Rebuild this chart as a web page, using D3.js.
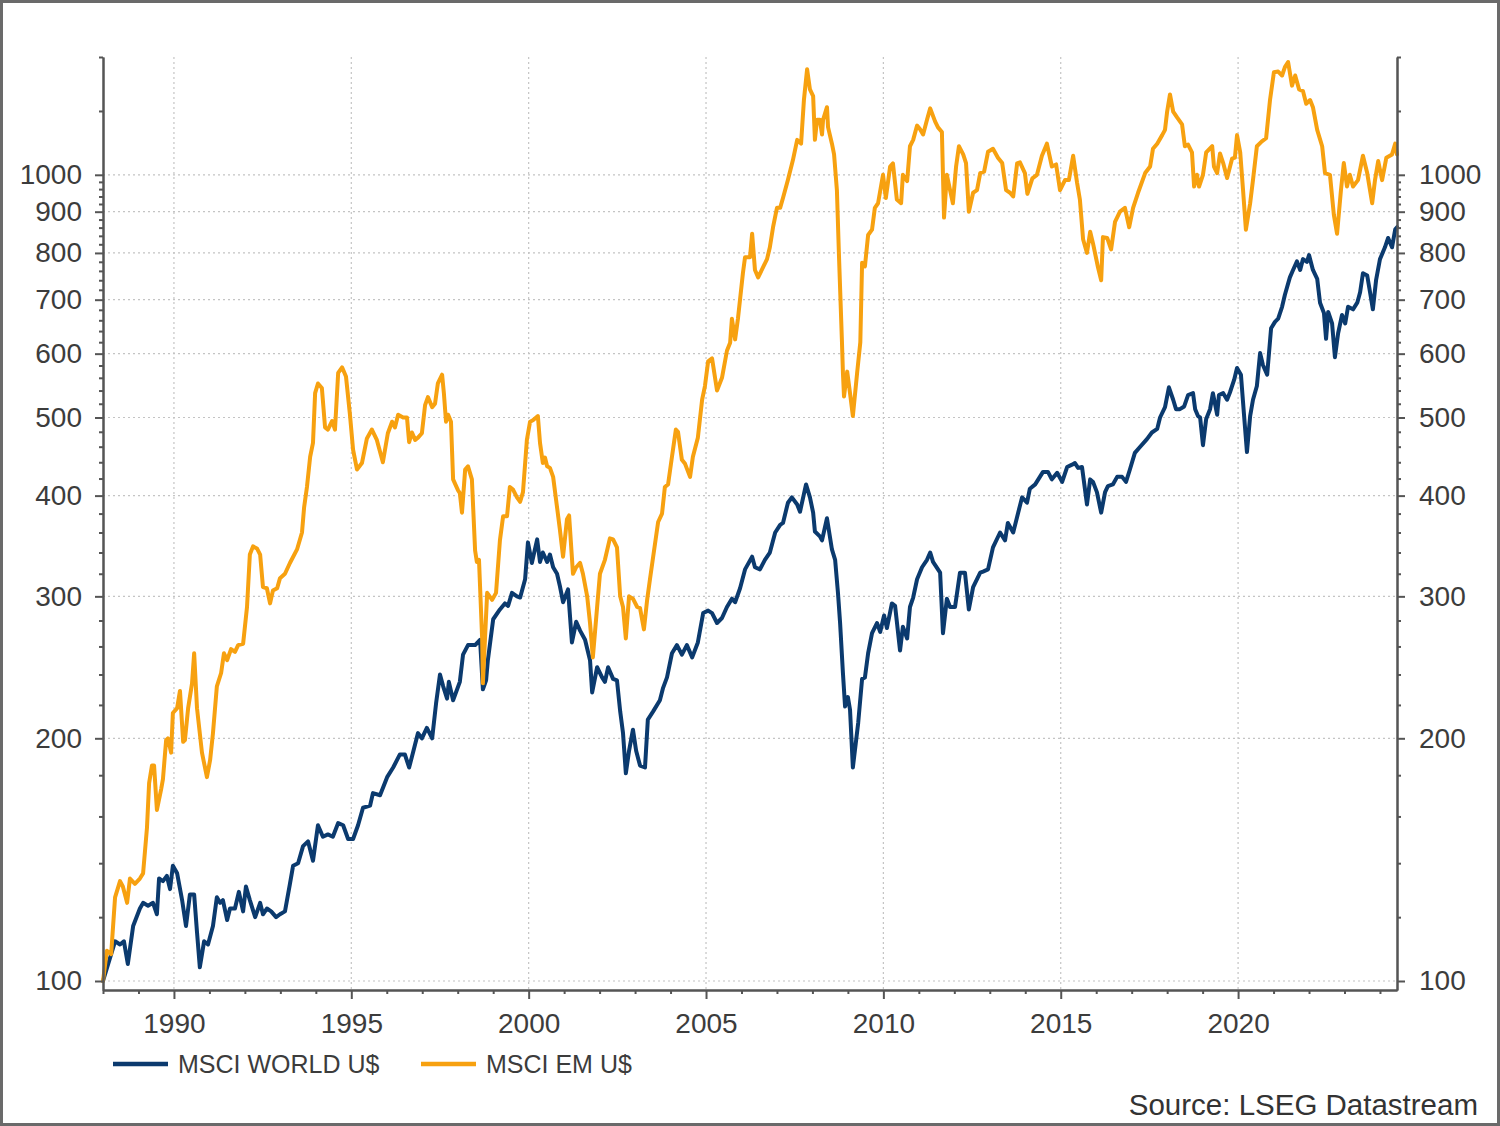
<!DOCTYPE html>
<html>
<head>
<meta charset="utf-8">
<script src="https://cdn.jsdelivr.net/npm/d3@7"></script>
<style>
  body { margin: 0; background: #fff; }
  text { font-family: "Liberation Sans", Arial, sans-serif; }
</style>
</head>
<body>
<svg id="chart" width="1500" height="1126"></svg>
<script>
// [decimal year, index value]
const worldSeries = [
  [1988.00,100],[1988.34,112],[1988.48,111],[1988.59,112],[1988.70,105],[1988.85,117],
  [1989.04,123],[1989.13,125],[1989.27,124],[1989.41,125],[1989.52,121],[1989.58,134],[1989.69,133],[1989.80,135],[1989.89,130],[1989.97,139],
  [1990.09,136],[1990.23,126],[1990.34,117],[1990.45,128],[1990.57,128],[1990.65,115],[1990.73,104],[1990.85,112],[1990.96,111],
  [1991.10,117],[1991.21,127],[1991.30,125],[1991.38,126],[1991.50,119],[1991.58,123],[1991.72,123],[1991.83,129],[1991.95,122],
  [1992.03,131],[1992.14,126],[1992.29,120],[1992.43,125],[1992.51,121],[1992.62,123],[1992.74,122],[1992.88,120],[1992.99,121],
  [1993.13,122],[1993.27,132],[1993.36,139],[1993.50,140],[1993.64,147],[1993.78,149],[1993.92,141],
  [1994.06,156],[1994.20,151],[1994.34,152],[1994.48,151],[1994.63,157],[1994.77,156],[1994.91,150],
  [1995.05,150],[1995.19,156],[1995.33,164],[1995.53,165],[1995.61,171],[1995.81,170],
  [1996.01,179],[1996.18,184],[1996.37,191],[1996.51,191],[1996.63,184],[1996.74,192],[1996.88,203],[1996.99,200],
  [1997.13,206],[1997.28,200],[1997.39,221],[1997.50,240],[1997.59,232],[1997.70,224],[1997.75,235],[1997.87,223],
  [1998.06,235],[1998.15,254],[1998.29,261],[1998.49,261],[1998.63,265],[1998.71,230],[1998.80,236],[1998.85,250],
  [1999.00,281],[1999.19,289],[1999.33,294],[1999.42,292],[1999.53,303],[1999.67,300],[1999.76,299],[1999.90,315],[1999.98,350],
  [2000.09,330],[2000.24,353],[2000.32,331],[2000.40,340],[2000.52,331],[2000.60,338],[2000.69,326],[2000.80,320],[2000.88,309],[2000.97,295],
  [2001.11,306],[2001.22,263],[2001.34,279],[2001.45,272],[2001.59,265],[2001.73,250],[2001.79,228],[2001.93,245],
  [2002.07,238],[2002.15,235],[2002.24,245],[2002.38,237],[2002.49,236],[2002.58,216],[2002.66,203],[2002.74,181],[2002.83,193],[2002.94,205],
  [2003.03,193],[2003.14,185],[2003.28,184],[2003.36,211],[2003.51,216],[2003.70,223],[2003.79,231],[2003.90,238],
  [2004.04,255],[2004.18,261],[2004.32,254],[2004.46,261],[2004.61,252],[2004.77,263],[2004.92,286],
  [2005.06,288],[2005.17,286],[2005.31,278],[2005.45,282],[2005.59,291],[2005.73,298],[2005.82,295],[2005.96,307],
  [2006.10,324],[2006.30,336],[2006.38,326],[2006.52,324],[2006.66,333],[2006.80,340],[2006.95,360],
  [2007.09,368],[2007.17,370],[2007.31,392],[2007.42,398],[2007.57,390],[2007.65,382],[2007.82,413],[2007.93,398],
  [2008.02,381],[2008.07,361],[2008.21,356],[2008.27,352],[2008.41,375],[2008.55,343],[2008.64,333],[2008.72,303],[2008.78,278],[2008.86,241],[2008.92,219],
  [2009.00,225],[2009.06,217],[2009.14,184],[2009.29,209],[2009.40,237],[2009.48,238],[2009.57,255],[2009.68,270],[2009.82,278],[2009.91,271],
  [2010.02,284],[2010.10,274],[2010.24,294],[2010.33,292],[2010.47,257],[2010.55,275],[2010.67,266],[2010.75,291],[2010.84,299],[2010.95,315],
  [2011.09,326],[2011.23,333],[2011.32,340],[2011.40,331],[2011.60,321],[2011.68,270],[2011.79,298],[2011.88,291],
  [2012.02,291],[2012.16,321],[2012.30,321],[2012.41,289],[2012.53,308],[2012.73,321],[2012.81,322],[2012.95,324],
  [2013.09,345],[2013.29,360],[2013.43,352],[2013.51,370],[2013.66,360],[2013.80,381],[2013.91,398],
  [2014.05,392],[2014.13,408],[2014.28,413],[2014.50,428],[2014.64,428],[2014.75,419],[2014.90,427],
  [2015.04,416],[2015.18,434],[2015.32,437],[2015.40,439],[2015.49,433],[2015.60,434],[2015.74,390],[2015.83,419],[2015.91,416],
  [2016.02,404],[2016.14,381],[2016.25,404],[2016.33,411],[2016.47,413],[2016.59,422],[2016.73,422],[2016.84,416],[2016.95,431],
  [2017.09,452],[2017.24,460],[2017.43,470],[2017.57,479],[2017.72,484],[2017.80,500],[2017.94,515],
  [2018.05,545],[2018.17,526],[2018.25,512],[2018.36,512],[2018.48,516],[2018.59,533],[2018.73,536],[2018.79,512],[2018.87,502],[2018.93,500],
  [2019.01,462],[2019.10,498],[2019.21,512],[2019.29,536],[2019.41,504],[2019.46,533],[2019.58,536],[2019.69,526],[2019.77,537],[2019.89,557],[2019.97,576],
  [2020.08,565],[2020.17,502],[2020.25,453],[2020.34,502],[2020.42,526],[2020.53,547],[2020.62,601],[2020.70,581],[2020.82,565],[2020.93,645],
  [2021.04,657],[2021.13,663],[2021.24,686],[2021.32,710],[2021.46,746],[2021.55,762],[2021.66,781],[2021.75,762],[2021.83,786],[2021.94,780],
  [2022.00,795],[2022.11,762],[2022.23,743],[2022.31,694],[2022.42,674],[2022.48,626],[2022.54,676],[2022.65,654],[2022.73,594],[2022.82,636],[2022.93,670],
  [2023.02,654],[2023.10,686],[2023.24,681],[2023.36,694],[2023.44,715],[2023.52,755],[2023.64,750],[2023.72,715],[2023.80,681],[2023.89,740],
  [2024.00,786],[2024.14,813],[2024.23,835],[2024.34,813],[2024.43,856],[2024.48,861]
];

const emSeries = [
  [1988.00,100],[1988.11,109],[1988.23,108],[1988.34,127],[1988.48,133],[1988.56,131],[1988.68,125],[1988.76,134],[1988.90,132],
  [1989.04,134],[1989.13,136],[1989.24,155],[1989.30,176],[1989.38,185],[1989.44,185],[1989.52,163],[1989.64,173],[1989.69,178],[1989.78,199],[1989.83,200],[1989.92,192],[1989.97,215],
  [1990.09,218],[1990.17,229],[1990.26,198],[1990.31,199],[1990.40,218],[1990.51,234],[1990.57,255],[1990.65,218],[1990.79,192],[1990.93,179],
  [1991.02,188],[1991.10,203],[1991.21,232],[1991.33,241],[1991.41,255],[1991.50,250],[1991.61,258],[1991.72,256],[1991.81,261],[1991.95,262],
  [1992.06,291],[1992.14,338],[1992.23,346],[1992.34,344],[1992.43,338],[1992.51,308],[1992.62,307],[1992.71,294],[1992.79,305],[1992.91,307],[1992.99,316],
  [1993.13,320],[1993.27,330],[1993.47,343],[1993.61,360],[1993.67,387],[1993.75,410],[1993.84,447],[1993.92,465],[1993.98,536],
  [1994.06,551],[1994.17,544],[1994.26,486],[1994.34,483],[1994.46,495],[1994.54,483],[1994.63,568],[1994.74,577],[1994.85,562],[1994.96,505],
  [1995.05,456],[1995.16,431],[1995.30,439],[1995.44,471],[1995.58,483],[1995.72,469],[1995.89,440],
  [1996.03,478],[1996.15,494],[1996.23,486],[1996.32,504],[1996.46,500],[1996.57,500],[1996.63,466],[1996.71,479],[1996.80,469],[1996.88,472],[1996.99,478],
  [1997.08,518],[1997.16,530],[1997.28,515],[1997.36,520],[1997.44,551],[1997.56,565],[1997.61,536],[1997.67,494],[1997.73,504],[1997.81,494],[1997.87,419],
  [1998.01,406],[1998.06,403],[1998.12,381],[1998.21,431],[1998.29,435],[1998.40,419],[1998.49,342],[1998.54,331],[1998.60,333],[1998.69,265],[1998.71,234],[1998.83,303],[1998.97,297],
  [1999.08,303],[1999.19,352],[1999.28,377],[1999.39,377],[1999.47,410],[1999.56,407],[1999.67,398],[1999.76,393],[1999.84,404],[1999.95,469],
  [2000.04,494],[2000.12,496],[2000.26,502],[2000.32,465],[2000.40,439],[2000.46,446],[2000.52,435],[2000.60,433],[2000.69,422],[2000.80,387],[2000.88,363],[2000.97,336],
  [2001.08,374],[2001.14,378],[2001.25,320],[2001.34,326],[2001.45,330],[2001.53,320],[2001.65,300],[2001.73,278],[2001.81,252],[2001.93,291],
  [2002.01,320],[2002.15,333],[2002.29,354],[2002.38,353],[2002.49,345],[2002.58,300],[2002.66,291],[2002.74,266],[2002.83,300],[2002.94,298],
  [2003.06,291],[2003.14,290],[2003.25,273],[2003.34,297],[2003.42,315],[2003.51,336],[2003.65,371],[2003.76,380],[2003.84,410],[2003.93,413],
  [2004.04,447],[2004.15,483],[2004.21,480],[2004.32,443],[2004.41,438],[2004.55,422],[2004.63,447],[2004.77,472],[2004.89,526],[2004.97,547],
  [2005.06,587],[2005.17,592],[2005.31,540],[2005.45,560],[2005.59,605],[2005.68,619],[2005.73,663],[2005.82,625],[2005.90,663],
  [2006.04,755],[2006.10,790],[2006.24,790],[2006.30,845],[2006.38,762],[2006.47,746],[2006.61,768],[2006.72,786],[2006.80,813],[2006.89,861],
  [2007.00,910],[2007.09,910],[2007.17,936],[2007.31,986],[2007.45,1043],[2007.57,1105],[2007.68,1093],[2007.76,1238],[2007.85,1352],[2007.93,1276],
  [2008.02,1252],[2008.07,1105],[2008.13,1170],[2008.21,1170],[2008.27,1122],[2008.30,1170],[2008.41,1213],[2008.44,1146],[2008.55,1093],[2008.61,1060],
  [2008.69,957],[2008.75,790],[2008.83,625],[2008.86,568],[2008.89,531],[2008.98,570],
  [2009.06,536],[2009.14,502],[2009.26,568],[2009.35,620],[2009.40,778],[2009.48,770],[2009.57,842],[2009.68,855],[2009.76,910],[2009.85,922],[2009.99,1000],
  [2010.07,936],[2010.19,1024],[2010.27,1033],[2010.38,932],[2010.50,922],[2010.55,1000],[2010.67,982],[2010.75,1085],[2010.84,1105],[2010.95,1151],
  [2011.03,1140],[2011.12,1122],[2011.23,1170],[2011.32,1209],[2011.46,1164],[2011.54,1145],[2011.65,1130],[2011.71,885],[2011.79,1000],[2011.88,957],[2011.96,922],
  [2012.05,1024],[2012.13,1085],[2012.25,1060],[2012.33,1034],[2012.41,900],[2012.53,950],[2012.64,957],[2012.73,1005],[2012.84,1009],[2012.95,1068],
  [2013.09,1077],[2013.23,1050],[2013.35,1034],[2013.46,957],[2013.57,950],[2013.66,940],[2013.77,1033],[2013.85,1036],[2013.99,1005],
  [2014.06,947],[2014.20,990],[2014.33,1000],[2014.47,1056],[2014.61,1093],[2014.75,1024],[2014.87,1030],[2014.98,957],
  [2015.12,985],[2015.23,985],[2015.35,1056],[2015.46,978],[2015.54,932],[2015.63,832],[2015.74,800],[2015.83,850],[2015.91,822],
  [2016.05,768],[2016.14,740],[2016.19,837],[2016.31,835],[2016.42,808],[2016.53,874],[2016.67,900],[2016.81,910],[2016.93,861],
  [2017.04,910],[2017.18,950],[2017.38,1005],[2017.52,1024],[2017.60,1077],[2017.72,1093],[2017.86,1120],[2017.94,1137],[2018.00,1198],
  [2018.08,1258],[2018.17,1198],[2018.28,1178],[2018.42,1155],[2018.50,1085],[2018.59,1090],[2018.70,1066],[2018.76,967],[2018.84,1000],[2018.90,967],
  [2019.01,1000],[2019.10,1066],[2019.27,1085],[2019.32,1024],[2019.41,1005],[2019.49,1063],[2019.58,1034],[2019.69,991],[2019.83,1047],[2019.91,1050],[2019.97,1120],
  [2020.06,1066],[2020.14,957],[2020.22,855],[2020.34,922],[2020.42,985],[2020.53,1085],[2020.67,1100],[2020.79,1110],[2020.90,1238],
  [2021.01,1340],[2021.13,1343],[2021.24,1328],[2021.32,1360],[2021.41,1380],[2021.52,1290],[2021.61,1328],[2021.72,1276],[2021.83,1270],[2021.92,1225],
  [2022.03,1238],[2022.11,1213],[2022.23,1137],[2022.37,1085],[2022.45,1005],[2022.59,1000],[2022.70,892],[2022.79,845],[2022.90,957],[2022.98,1034],
  [2023.07,967],[2023.15,1000],[2023.24,967],[2023.38,985],[2023.52,1056],[2023.64,1005],[2023.78,922],[2023.86,985],[2023.95,1040],
  [2024.06,985],[2024.18,1050],[2024.34,1060],[2024.43,1093],[2024.48,1060]
];

const seriesNames = ["MSCI WORLD U$", "MSCI EM U$"];
const seriesColors = ["#0b3a6e", "#f7a110"];
const yLabelTicks = [100, 200, 300, 400, 500, 600, 700, 800, 900, 1000];
const yMinorTicks = d3.range(120, 1000, 20).filter(v => v % 100 !== 0).concat([1200, 1400]);
const xLabelYears = [1990, 1995, 2000, 2005, 2010, 2015, 2020];
const xMinorYears = d3.range(1988, 2025).filter(v => v % 5 !== 0);
const sourceText = "Source: LSEG Datastream";

const svg = d3.select("#chart");
const plotLeft = 103, plotRight = 1397, plotTop = 57, plotBottom = 990;
const axisColor = "#555";
const textColor = "#3c3c3c";

const x = d3.scaleLinear().domain([1988, 2024.48]).range([plotLeft, plotRight]);
const y = d3.scaleLog().domain([97.46, 1400]).range([plotBottom, plotTop]);

// outer frame
svg.append("rect")
  .attr("x", 1.5).attr("y", 1.5)
  .attr("width", 1497).attr("height", 1123)
  .attr("fill", "#fff")
  .attr("stroke", "#6a6a6a")
  .attr("stroke-width", 3);

// gridlines
const grid = svg.append("g")
  .attr("stroke", "#c4c4c4")
  .attr("stroke-width", 1.2)
  .attr("stroke-dasharray", "2,3");

grid.selectAll("line.h")
  .data(yLabelTicks)
  .enter().append("line")
  .attr("x1", plotLeft).attr("x2", plotRight)
  .attr("y1", d => y(d)).attr("y2", d => y(d));

grid.selectAll("line.v")
  .data(xLabelYears)
  .enter().append("line")
  .attr("x1", d => x(d)).attr("x2", d => x(d))
  .attr("y1", plotTop).attr("y2", plotBottom);

// lines
const line = d3.line()
  .x(d => x(d[0]))
  .y(d => y(d[1]));

[worldSeries, emSeries].forEach((series, i) => {
  svg.append("path")
    .datum(series)
    .attr("d", line)
    .attr("fill", "none")
    .attr("stroke", seriesColors[i])
    .attr("stroke-width", 4)
    .attr("stroke-linejoin", "round")
    .attr("stroke-linecap", "round");
});

// axes
function styleAxis(g) {
  g.attr("font-family", "\"Liberation Sans\", Arial, sans-serif")
    .attr("font-size", 28)
    .attr("color", axisColor);
  g.select(".domain").attr("stroke-width", 2);
  g.selectAll(".tick line").attr("stroke-width", 2);
  g.selectAll(".tick text").attr("fill", textColor);
}

// left
svg.append("g")
  .attr("transform", `translate(${plotLeft},0)`)
  .call(d3.axisLeft(y).tickValues(yMinorTicks).tickSize(4).tickSizeOuter(0).tickFormat(""))
  .call(styleAxis);
svg.append("g")
  .attr("transform", `translate(${plotLeft},0)`)
  .call(d3.axisLeft(y).tickValues(yLabelTicks).tickSize(8).tickSizeOuter(0).tickPadding(13).tickFormat(d3.format("d")))
  .call(styleAxis);

// right
svg.append("g")
  .attr("transform", `translate(${plotRight},0)`)
  .call(d3.axisRight(y).tickValues(yMinorTicks).tickSize(4).tickSizeOuter(0).tickFormat(""))
  .call(styleAxis);
svg.append("g")
  .attr("transform", `translate(${plotRight},0)`)
  .call(d3.axisRight(y).tickValues(yLabelTicks).tickSize(8).tickSizeOuter(0).tickPadding(14).tickFormat(d3.format("d")))
  .call(styleAxis);

// bottom
svg.append("g")
  .attr("transform", `translate(0,${plotBottom})`)
  .call(d3.axisBottom(x).tickValues(xMinorYears).tickSize(4).tickSizeOuter(0).tickFormat(""))
  .call(styleAxis);
svg.append("g")
  .attr("transform", `translate(0,${plotBottom})`)
  .call(d3.axisBottom(x).tickValues(xLabelYears).tickSize(9).tickSizeOuter(0).tickFormat(d3.format("d")))
  .call(styleAxis)
  .call(g => g.selectAll(".tick text").attr("y", 23));

// legend
const legend = svg.append("g").attr("transform", "translate(0,1064)");
const legendX = [113, 421];
seriesNames.forEach((name, i) => {
  legend.append("line")
    .attr("x1", legendX[i]).attr("x2", legendX[i] + 55)
    .attr("y1", 0).attr("y2", 0)
    .attr("stroke", seriesColors[i])
    .attr("stroke-width", 4.5);
  legend.append("text")
    .attr("x", legendX[i] + 65)
    .attr("y", 9)
    .attr("font-size", 25)
    .attr("fill", textColor)
    .text(name);
});

svg.append("text")
  .attr("x", 1478)
  .attr("y", 1115)
  .attr("text-anchor", "end")
  .attr("font-size", 29.5)
  .attr("fill", "#333")
  .text(sourceText);
</script>
</body>
</html>
